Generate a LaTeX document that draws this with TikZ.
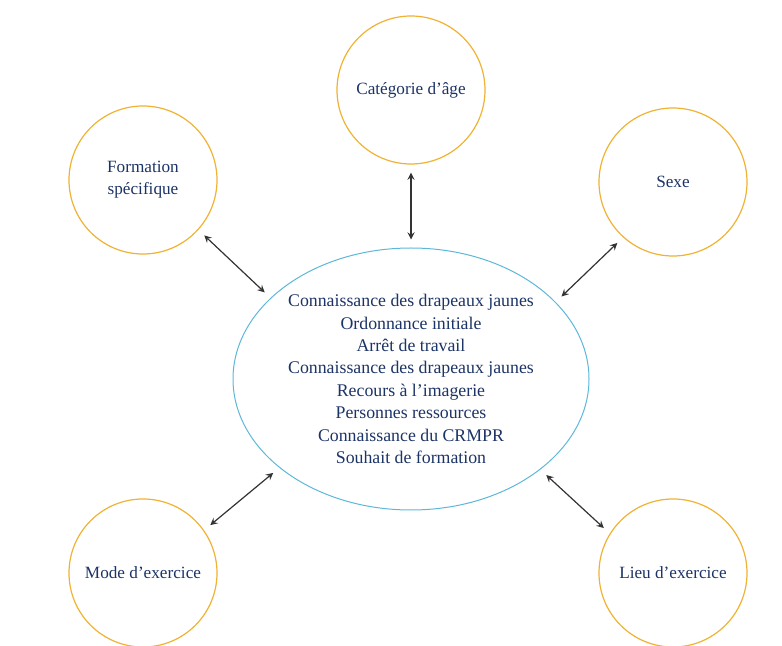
\documentclass[tikz,border=0pt]{standalone}
\usepackage{fontspec}
\setmainfont{Liberation Serif}
\usetikzlibrary{shapes.geometric}
\definecolor{texte}{HTML}{1C3366}
\definecolor{jaune}{HTML}{F0B232}
\definecolor{bleu}{HTML}{5DB7D8}
\begin{document}
\begin{tikzpicture}[>=stealth, x=0.5pt, y=-0.5pt,
    rond/.style={circle, draw=jaune, line width=.6pt, minimum size=74pt, inner sep=0pt,
        text=texte, font=\fontsize{8.6}{11}\selectfont, align=center},
    lien/.style={<->, draw=black!80, line width=.6pt, shorten >=4pt, shorten <=4pt}]
\useasboundingbox (0,0) rectangle (782,646);

\node[ellipse, draw=bleu, line width=.5pt, minimum width=178pt, minimum height=131pt,
    inner sep=0pt, text=texte, align=center, font=\fontsize{8.9}{11.2}\selectfont]
    (ell) at (411,379) {Connaissance des drapeaux jaunes\\Ordonnance initiale\\Arrêt de travail\\
    Connaissance des drapeaux jaunes\\Recours à l’imagerie\\Personnes ressources\\
    Connaissance du CRMPR\\Souhait de formation};

\node[rond] (age) at (411,90) {Catégorie d’âge};
\node[rond] (form) at (143,180) {Formation\\spécifique};
\node[rond] (sexe) at (673,182) {Sexe};
\node[rond] (mode) at (143,573) {Mode d’exercice};
\node[rond] (lieu) at (673,573) {Lieu d’exercice};

\draw[lien] (age.south) -- (ell.north);
\draw[lien] (form.-42) -- (ell.150);
\draw[lien] (sexe.-132) -- (ell.28);
\draw[lien] (mode.35) -- (ell.214);
\draw[lien] (ell.-35) -- (lieu.148);
\end{tikzpicture}
\end{document}
